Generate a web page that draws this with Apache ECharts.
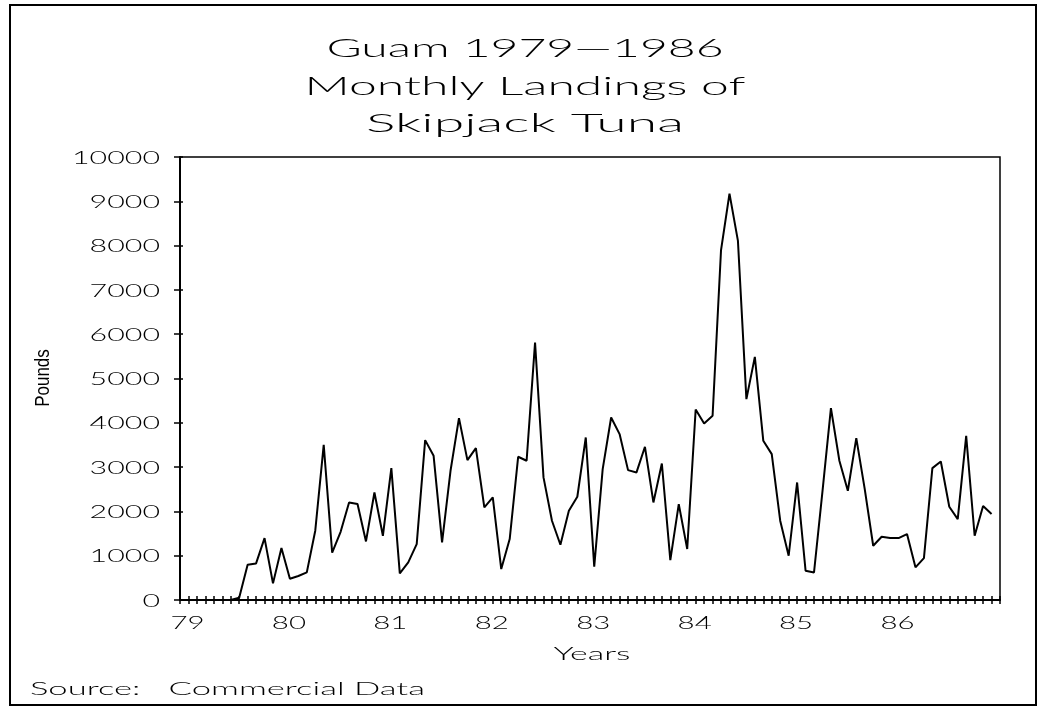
<!DOCTYPE html>
<html>
<head>
<meta charset="utf-8">
<script src="https://cdn.jsdelivr.net/npm/echarts@6/dist/echarts.min.js"></script>
<style>
html,body{margin:0;padding:0;background:#fff;}
#c{width:1041px;height:711px;}
</style>
</head>
<body>
<div id="c"></div>
<script>
// Month index 0 = Jan 1979 ... 95 = Dec 1986
const titleLines = ['Guam 1979\u20141986', 'Monthly Landings of', 'Skipjack Tuna'];
const yearLabels = ['79','80','81','82','83','84','85','86'];
const yTicks = [0,1000,2000,3000,4000,5000,6000,7000,8000,9000,10000];
const landings1979 = [0,0,0,0,0,0,50,796,826,1398,375,1173];
const landings1980 = [481,541,623,1564,3503,1067,1540,2202,2165,1322,2427,1450];
const landings1981 = [2977,600,848,1263,3609,3255,1300,2917,4106,3158,3429,2089];
const landings1982 = [2315,699,1376,3233,3143,5812,2767,1789,1248,2015,2331,3669];
const landings1983 = [752,2955,4120,3745,2932,2880,3458,2202,3082,902,2165,1150];
const landings1984 = [4300,3985,4158,7900,9172,8105,4534,5488,3594,3293,1789,999];
const landings1985 = [2653,661,623,2450,4331,3143,2466,3654,2504,1225,1428,1398];
const landings1986 = [1398,1489,737,947,2977,3127,2105,1827,3706,1450,2120,1940];

const allMonths = [].concat(landings1979,landings1980,landings1981,landings1982,
  landings1983,landings1984,landings1985,landings1986);
const seriesData = allMonths.map((v,i)=>[i,v]);

const LIGHT = 'Lato';
const ctx = document.createElement('canvas').getContext('2d');
function measure(text, font){ ctx.font = font; return ctx.measureText(text).width; }
function wideText(text, x, y, size, targetWidth, align, extra){
  const font = '300 ' + size + 'px ' + LIGHT;
  const sx = targetWidth / measure(text, font);
  return Object.assign({type:'text', x:x, y:y, scaleX:sx, silent:true,
    style:{text:text, x:0, y:0, align:align, verticalAlign:'middle', font:font, fill:'#000'}}, extra||{});
}

const chart = echarts.init(document.getElementById('c'), null, {renderer:'canvas'});
const xCommon = {
  type:'value', min:-1, max:96, interval:1, position:'bottom',
  splitLine:{show:false}, axisLabel:{show:false}
};
chart.setOption({
  animation:false,
  backgroundColor:'#fff',
  grid:{left:180, right:41, top:157, bottom:111, show:true, borderColor:'#000', borderWidth:1.5},
  xAxis:[
    Object.assign({}, xCommon, {
      axisLine:{onZero:false, lineStyle:{color:'#000', width:2}},
      axisTick:{show:true, length:4, inside:false, lineStyle:{color:'#000', width:1.5}}
    }),
    Object.assign({}, xCommon, {
      axisLine:{show:false, onZero:false},
      axisTick:{show:true, length:4, inside:true, lineStyle:{color:'#000', width:1.5}}
    })
  ],
  yAxis:[
    {
      type:'value', min:0, max:10000, interval:1000, position:'left',
      axisLine:{show:true, onZero:false, lineStyle:{color:'#000', width:2}},
      axisTick:{show:true, length:6, inside:false, lineStyle:{color:'#000', width:1.5}},
      axisLabel:{show:false},
      splitLine:{show:false}
    },
    {
      type:'value', min:0, max:10000, interval:1000, position:'left', offset:0,
      axisLine:{show:false, onZero:false},
      axisTick:{show:true, length:3, inside:true, lineStyle:{color:'#000', width:1.5}},
      axisLabel:{show:false},
      splitLine:{show:false}
    }
  ],
  series:[{
    type:'line', data:seriesData, xAxisIndex:0, yAxisIndex:0,
    symbol:'none', lineStyle:{color:'#000', width:2}, z:5
  }]
});

// Tick labels placed through the axes' own scales
const digitW = 17.6;
const graphics = [
  {type:'rect', shape:{x:10, y:5, width:1026, height:700}, style:{fill:null, stroke:'#000', lineWidth:2}, silent:true}
];
const titleW = [397, 441, 318];
titleLines.forEach((t,i)=>{
  graphics.push(wideText(t, 525, 49 + i*37.5, 25, titleW[i], 'center'));
});
yTicks.forEach(v=>{
  const py = chart.convertToPixel({yAxisIndex:0}, v);
  graphics.push(wideText(String(v), 160, py + 1, 17.5, digitW * String(v).length, 'right'));
});
yearLabels.forEach((lab,i)=>{
  const px = chart.convertToPixel({xAxisIndex:0}, i*12);
  graphics.push(wideText(lab, px - 1, 623, 17.5, digitW * lab.length * 0.97, 'center'));
});
graphics.push(wideText('Years', 592, 654, 18, 77, 'center'));
graphics.push(wideText('Source:   Commercial Data', 30, 689, 18, 395, 'left'));
graphics.push({type:'text', x:43, y:378, rotation:Math.PI/2, silent:true,
  style:{text:'Pounds', x:0, y:0, align:'center', verticalAlign:'middle',
         font:'20px "Liberation Sans", sans-serif', fill:'#000'}, scaleX:0.85});
chart.setOption({graphic:graphics});
</script>
</body>
</html>
